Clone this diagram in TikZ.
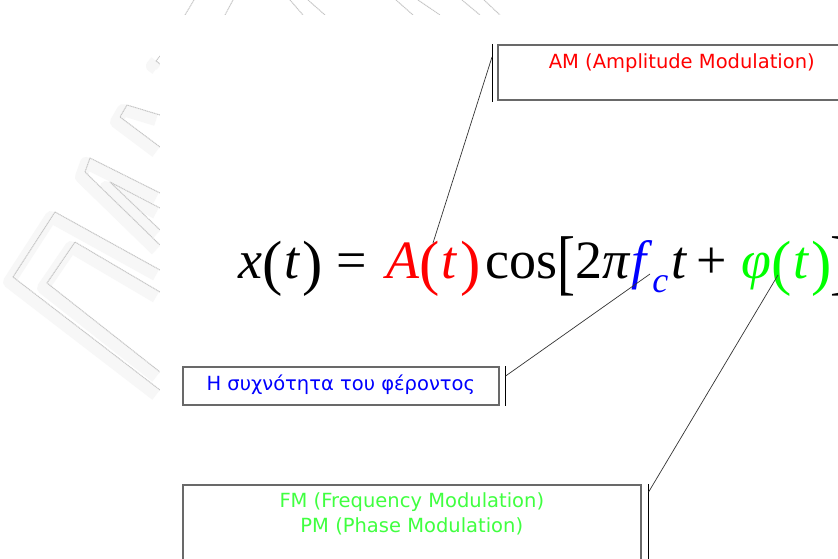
\documentclass[tikz,border=0pt]{standalone}
\usepackage{fontspec}
\usepackage{graphicx}
\usetikzlibrary{calc}
\setmainfont{Liberation Serif}
\newfontfamily\lblfont{DejaVu Sans}
\definecolor{amred}{RGB}{255,0,0}
\definecolor{fcblue}{RGB}{0,0,255}
\definecolor{phigreen}{RGB}{0,255,0}
\definecolor{fmgreen}{RGB}{64,255,64}
\definecolor{boxgray}{RGB}{105,105,105}
\definecolor{wmgray}{RGB}{198,198,198}
\definecolor{wmhaze}{RGB}{247,247,247}
\newcommand{\eqparen}[1]{\raisebox{-0.10em}{\scalebox{1.13}{#1}}}
\newcommand{\eqbrack}[1]{\raisebox{-0.16em}{\scalebox{1}[1.33]{#1}}}
\newcommand{\eqkern}{\kern0.04em}
\begin{document}
\begin{tikzpicture}[x=1pt,y=-1pt,
  eqpart/.style={anchor=base west,inner sep=0pt,font=\fontsize{54}{60}\selectfont},
  lblbox/.style={draw=boxgray,line width=1.6pt,fill=white,inner xsep=0pt,inner ysep=0pt,
    font=\lblfont\fontsize{19.5}{25}\selectfont,align=center},
  barline/.style={line width=1pt,black},
  callout/.style={line width=0.7pt,black!80},
  wmline/.style={draw=wmgray,line width=1pt,dash pattern=on 1.2pt off 0.6pt,line join=round},
  wmshade/.style={draw=wmhaze,line width=12pt,line join=round}
]
\useasboundingbox (0,0) rectangle (838,559);
\fill[white] (0,0) rectangle (838,559);
% watermark (faint logo behind the page)
\foreach \p in {
  {(160,270) -- (55,212) -- (13,277) -- (160,390)},
  {(160,292) -- (75,242) -- (47,283) -- (160,372)},
  {(160,193) -- (90,158) -- (85,172) -- (160,245)},
  {(160,208) -- (110,182) -- (160,230)},
  {(160,115) -- (127,105) -- (120,117) -- (160,147)},
  {(160,56) -- (156,61) -- (160,64)}}{
  \draw[wmshade,transform canvas={shift={(-4pt,-5pt)}}] \p;
}
\foreach \p in {
  {(160,270) -- (55,212) -- (13,277) -- (160,390)},
  {(160,292) -- (75,242) -- (47,283) -- (160,372)},
  {(160,193) -- (90,158) -- (85,172) -- (160,245)},
  {(160,208) -- (110,182) -- (160,230)},
  {(160,115) -- (127,105) -- (120,117) -- (160,147)},
  {(160,56) -- (156,61) -- (160,64)},
  {(185,15) -- (194,0)}, {(225,15) -- (233,0)},
  {(290,0) -- (303,15)}, {(308,0) -- (325,15)},
  {(396,0) -- (413,15)}, {(418,0) -- (440,15)},
  {(462,0) -- (480,15)}, {(484,0) -- (500,15)}}{
  \draw[wmline] \p;
}
% page
\fill[white] (160,15) rectangle (839,560);

% equation
\node[eqpart] (eqx) at (238,278) {\textit{x}\eqparen{(}\eqkern\textit{t}\eqkern\eqparen{)}};
\node[eqpart] (eqeq) at (336,278) {=};
\node[eqpart,text=amred] (eqA) at (386,278) {\textit{A}\eqparen{(}\eqkern\textit{t}\eqkern\eqparen{)}};
\node[eqpart] (eqcos) at (485,278) {cos\eqbrack{[}2\textit{π}};
\node[eqpart,text=fcblue] (eqf) at (631,278) {\textit{f}\raisebox{-0.26em}{\fontsize{36}{40}\selectfont\textit{c}}};
\node[eqpart] (eqt) at (671,278) {\textit{t}\,+};
\node[eqpart,text=phigreen] (eqphi) at (741,278) {\textit{φ}\eqparen{(}\eqkern\textit{t}\eqkern\eqparen{)}};
\node[eqpart] (eqbr) at (830,278) {\eqbrack{]}};

% target points in the equation
\coordinate (pA) at (433,243);
\coordinate (pF) at (650,274);
\coordinate (pPhi) at (778,275);

% label boxes
\node[lblbox,anchor=north west,minimum width=368pt,text height=23.7pt,text depth=31.3pt,text=amred]
  (am) at (497,44) {AM (Amplitude Modulation)};
\node[lblbox,anchor=north west,minimum width=316pt,text height=24pt,text depth=14pt,text=fcblue]
  (fc) at (182,366) {Η συχνότητα του φέροντος};
\node[lblbox,anchor=north west,minimum width=458pt,text height=48pt,text depth=100pt,text=fmgreen]
  (fm) at (182,484) {FM (Frequency Modulation)\\PM (Phase Modulation)};

% callout bars
\coordinate (amBarT) at ($(am.north west)+(-5,0)$);
\coordinate (amBarB) at ($(am.south west)+(-5,1)$);
\coordinate (amBarP) at ($(am.north west)+(-5,13)$);
\coordinate (fcBarT) at ($(fc.north east)+(6,0)$);
\coordinate (fcBarB) at ($(fc.south east)+(6,0)$);
\coordinate (fcBarP) at ($(fc.north east)+(6,10)$);
\coordinate (fmBarT) at ($(fm.north east)+(7,0)$);
\coordinate (fmBarB) at ($(fm.south east)+(7,0)$);
\coordinate (fmBarP) at ($(fm.north east)+(7,8)$);
\draw[barline] (amBarT) -- (amBarB);
\draw[barline] (fcBarT) -- (fcBarB);
\draw[barline] (fmBarT) -- (fmBarB);

% connectors
\draw[callout] (amBarP) -- (pA);
\draw[callout] (fcBarP) -- (pF);
\draw[callout] (fmBarP) -- (pPhi);
\end{tikzpicture}
\end{document}
